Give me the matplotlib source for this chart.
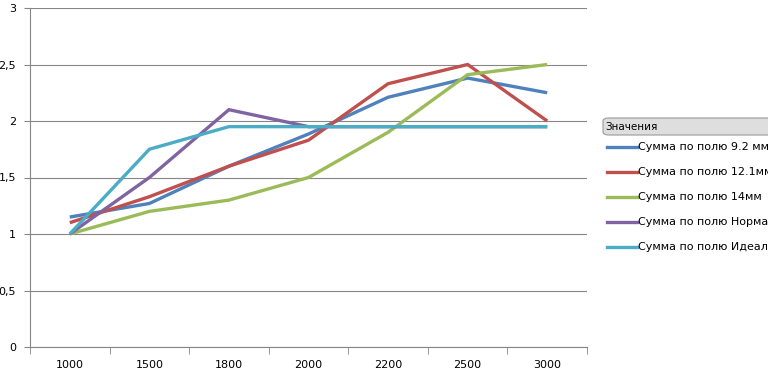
import matplotlib.pyplot as plt
import numpy as np
from matplotlib.patches import FancyBboxPatch
from matplotlib.lines import Line2D

categories = ['1000', '1500', '1800', '2000', '2200', '2500', '3000']
s_92 = [1.15, 1.27, 1.6, 1.885, 2.21, 2.38, 2.25]
s_121 = [1.1, 1.33, 1.6, 1.83, 2.33, 2.5, 2.0]
s_14 = [1.0, 1.2, 1.3, 1.5, 1.9, 2.41, 2.5]
s_norma = [1.0, 1.5, 2.1, 1.95, 1.95, 1.95, 1.95]
s_ideal = [1.0, 1.75, 1.95, 1.95, 1.95, 1.95, 1.95]

names = ['Сумма по полю 9.2 мм', 'Сумма по полю 12.1мм', 'Сумма по полю 14мм',
         'Сумма по полю Норма', 'Сумма по полю Идеал 1']
colors = ['#4F81BD', '#C0504D', '#9BBB59', '#8064A2', '#4BACC6']
series = [s_92, s_121, s_14, s_norma, s_ideal]

yticks = [0, 0.5, 1, 1.5, 2, 2.5, 3]
ylabels = ['0', '0,5', '1', '1,5', '2', '2,5', '3']

fig = plt.figure(figsize=(7.68, 3.72), dpi=100)
ax = fig.add_axes([30 / 768, 25 / 372, 557 / 768, 339 / 372])

x = np.arange(len(categories))
for vals, c in zip(series, colors):
    ax.plot(x, vals, color=c, lw=2.4, solid_capstyle='butt', solid_joinstyle='miter')

ax.set_xlim(-0.5, len(categories) - 0.5)
ax.set_ylim(0, 3)
ax.set_yticks(yticks)
ax.set_yticklabels(ylabels)
ax.set_xticks(x)
ax.set_xticklabels(categories)
ax.set_xticks(np.arange(-0.5, len(categories)), minor=True)
ax.tick_params(axis='x', which='major', length=0, pad=9, labelsize=8)
ax.tick_params(axis='x', which='minor', length=5, color='#868686', direction='out')
ax.tick_params(axis='y', length=4, color='#868686', labelsize=8, pad=6)

ax.yaxis.grid(True, color='#868686', lw=0.8)
ax.set_axisbelow(True)
for sp in ['top', 'right']:
    ax.spines[sp].set_visible(False)
for sp in ['left', 'bottom']:
    ax.spines[sp].set_color('#868686')
    ax.spines[sp].set_linewidth(0.8)

# legend header box
hdr = FancyBboxPatch((603 / 768, 1 - 135 / 372), 200 / 768, 17 / 372,
                     boxstyle='round,pad=0,rounding_size=0.008',
                     transform=fig.transFigure, facecolor='#dedede',
                     edgecolor='#9a9a9a', lw=0.8, clip_on=False)
fig.patches.append(hdr)
fig.text(605 / 768, 1 - 127 / 372, 'Значения', fontsize=7.5, va='center', ha='left')

for i, (name, c) in enumerate(zip(names, colors)):
    yy = 1 - (147 + 25 * i) / 372
    fig.lines.append(Line2D([607 / 768, 637 / 768], [yy, yy], color=c, lw=2.4,
                            transform=fig.transFigure))
    fig.text(638 / 768, yy, name, fontsize=8, va='center', ha='left')

fig.savefig('out.png', dpi=100)
